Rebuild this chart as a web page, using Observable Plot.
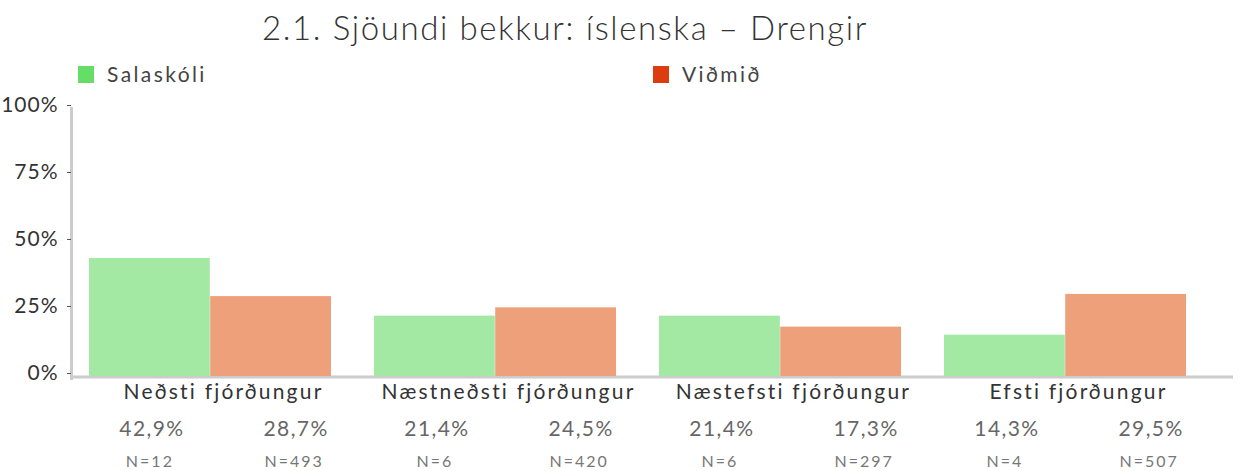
<!DOCTYPE html>
<html>
<head>
<meta charset="utf-8">
<script src="https://cdn.jsdelivr.net/npm/d3@7"></script>
<script src="https://cdn.jsdelivr.net/npm/@observablehq/plot@0.6"></script>
<style>
  html, body { margin: 0; padding: 0; background: #fff; }
  body { font-family: Lato, "Open Sans", sans-serif; }
  #wrap { position: relative; width: 1247px; height: 471px; overflow: hidden; }
  #title { position: absolute; left: 0; width: 1130px; text-align: center; top: 9px;
           font-size: 33px; line-height: 36px; color: #333; font-weight: 300; letter-spacing: 1.6px; white-space: nowrap; }
  .leg { position: absolute; top: 62px; font-size: 21px; line-height: 24px; color: #444; letter-spacing: 2.4px; white-space: nowrap; }
  .sw { display: inline-block; width: 16px; height: 17px; vertical-align: -1px; margin-right: 13px; }
  #chart { position: absolute; left: 0; top: 0; }
  .yax text { letter-spacing: 1px; }
</style>
</head>
<body>
<div id="wrap">
  <div id="title"></div>
  <div id="legend"></div>
  <div id="chart"></div>
</div>
<script>
const title = "2.1. Sjöundi bekkur: íslenska – Drengir";
const categories = ["Neðsti fjórðungur", "Næstneðsti fjórðungur", "Næstefsti fjórðungur", "Efsti fjórðungur"];
const seriesNames = ["Salaskóli", "Viðmið"];
const salaskoli = [42.9, 21.4, 21.4, 14.3];
const vidmid = [28.7, 24.5, 17.3, 29.5];
const salaskoliN = [12, 6, 6, 4];
const vidmidN = [493, 420, 297, 507];
const yTicks = [0, 25, 50, 75, 100];

const barColors = ["#a3e8a3", "#eea07b"];
const legendColors = ["#66dd66", "#dd3b10"];

document.getElementById("title").textContent = title;
const legend = document.getElementById("legend");
const legendX = [78, 653];
seriesNames.forEach((s, i) => {
  const d = document.createElement("div");
  d.className = "leg";
  d.style.left = legendX[i] + "px";
  d.innerHTML = `<span class="sw" style="background:${legendColors[i]}"></span>`;
  d.appendChild(document.createTextNode(s));
  legend.appendChild(d);
});

const fmt = v => v.toFixed(1).replace(".", ",") + "%";
const rows = categories.map((c, i) => ({cat: c, a: salaskoli[i], b: vidmid[i], na: salaskoliN[i], nb: vidmidN[i]}));

const W = 1247, H = 471;
const xRange = [89, 1187];
const padInner = 0.15;
const step = (xRange[1] - xRange[0]) / (categories.length - padInner);
const bw = step * (1 - padInner);
const half = bw / 2;

const plot = Plot.plot({
  width: W,
  height: H,
  marginTop: 105,
  marginBottom: 98,
  marginLeft: 71,
  marginRight: 14,
  style: {fontFamily: "Lato, 'Open Sans', sans-serif", background: "transparent", overflow: "visible"},
  x: {domain: categories, range: xRange, paddingInner: padInner, paddingOuter: 0, axis: null},
  y: {domain: [0, 100], axis: null},
  marks: [
    Plot.ruleY([0], {stroke: "#cccccc", strokeWidth: 3, dy: 3.5}),
    Plot.frame({anchor: "left", stroke: "#cccccc", strokeWidth: 3, insetTop: 3, insetBottom: -5}),
    Plot.axisY({ticks: yTicks, tickFormat: d => d + "%", tickSize: 4, tickPadding: 9, fontSize: 21, color: "#333", stroke: "#555", className: "yax"}),
    Plot.barY(rows, {x: "cat", y: "a", fill: barColors[0], insetRight: half, insetBottom: -3}),
    Plot.barY(rows, {x: "cat", y: "b", fill: barColors[1], insetLeft: half, insetBottom: -3}),
    Plot.text(rows, {x: "cat", text: "cat", frameAnchor: "bottom", lineAnchor: "bottom", dy: 25, dx: 13, fontSize: 21, fill: "#333", className: "cat-labels"}),
    Plot.text(rows, {x: "cat", text: d => fmt(d.a), frameAnchor: "bottom", lineAnchor: "bottom", dy: 62, dx: -half / 2 + 2, fontSize: 21, fill: "#666", className: "pct-labels"}),
    Plot.text(rows, {x: "cat", text: d => fmt(d.b), frameAnchor: "bottom", lineAnchor: "bottom", dy: 62, dx: half / 2 + 25, fontSize: 21, fill: "#666", className: "pct-labels"}),
    Plot.text(rows, {x: "cat", text: d => "N=" + d.na, frameAnchor: "bottom", lineAnchor: "bottom", dy: 93, dx: -half / 2, fontSize: 16, fill: "#777", className: "n-labels"}),
    Plot.text(rows, {x: "cat", text: d => "N=" + d.nb, frameAnchor: "bottom", lineAnchor: "bottom", dy: 93, dx: half / 2 + 23, fontSize: 16, fill: "#777", className: "n-labels"})
  ]
});
document.getElementById("chart").appendChild(plot);
const ls = {"cat-labels": "2.2px", "pct-labels": "1.4px", "n-labels": "2px"};
d3.select(plot).selectAll("g").each(function() {
  const c = this.getAttribute("class") || "";
  for (const k in ls) if (c.split(/\s+/).includes(k)) d3.select(this).selectAll("text").style("letter-spacing", ls[k]);
});
</script>
</body>
</html>
